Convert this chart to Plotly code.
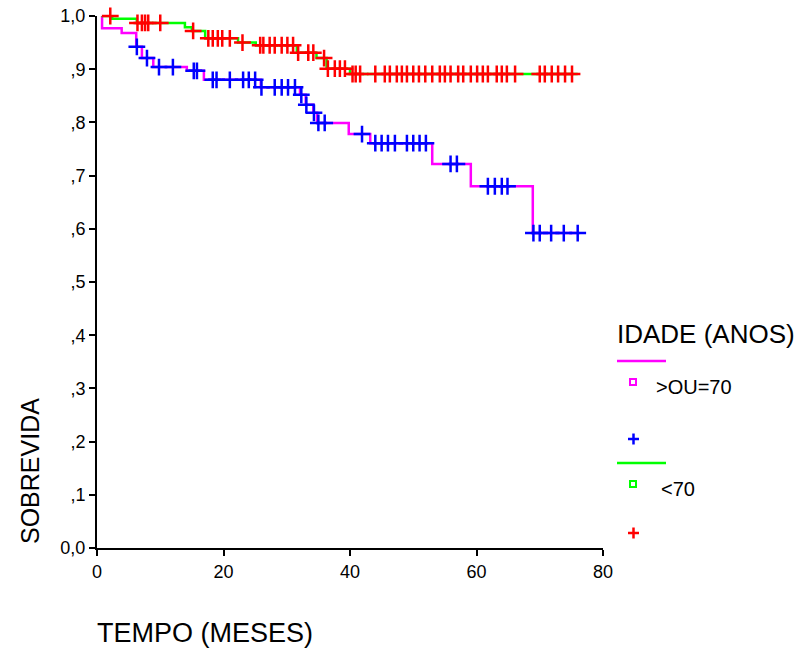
import numpy as np
import plotly.graph_objects as go

# ---------------- data ----------------
start_t = 0.7
# group >OU=70 (magenta line, blue censor marks)
old_drop_t = [0.8, 3.9, 6.2, 7.1, 8.9, 14.2, 16.9, 25.9, 32.1, 33.0, 34.2, 34.8, 39.8, 43.2, 53.0, 59.1, 68.9]
old_drop_s = [0.977, 0.968, 0.942, 0.921, 0.904, 0.897, 0.880, 0.866, 0.852, 0.833, 0.818, 0.799, 0.778, 0.761, 0.722, 0.680, 0.592]
old_end = 76.3
old_cens = [6.3, 7.9, 9.8, 12.0, 15.3, 15.8, 18.3, 18.9, 21.0, 23.1, 24.0, 25.0, 26.0, 28.1, 29.2, 30.2,
            31.3, 32.3, 33.1, 34.3, 35.0, 36.0, 41.9, 44.0, 45.0, 46.0, 47.1, 49.0, 50.0, 51.0, 52.0,
            55.9, 56.9, 61.8, 62.9, 64.0, 64.9, 69.0, 70.0, 71.8, 73.8, 76.0]

# group <70 (green line, red censor marks)
young_drop_t = [2.4, 6.3, 13.9, 15.0, 17.1, 22.3, 25.1, 31.6, 34.7, 36.3, 40.0]
young_drop_s = [0.995, 0.987, 0.979, 0.972, 0.958, 0.950, 0.945, 0.931, 0.921, 0.901, 0.891]
young_end = 76.0
young_cens = [2.1, 6.4, 7.1, 7.6, 8.1, 10.0, 15.2, 17.6, 18.3, 19.1, 19.8, 21.0, 23.0, 25.8, 26.3, 27.3,
              28.1, 29.2, 30.1, 31.0, 31.8, 33.4, 34.2, 35.9, 36.5, 37.6, 38.4, 39.2, 40.4, 40.9, 41.6,
              44.0, 45.5, 46.3, 47.4, 48.2, 49.0, 50.0, 50.9, 51.9, 53.0, 54.2, 55.0, 55.9, 57.1, 57.9,
              59.1, 60.1, 61.0, 61.8, 63.2, 64.0, 64.8, 66.1, 70.0, 70.8, 71.9, 72.9, 74.0, 75.1]

x_ticks = [0, 20, 40, 60, 80]
y_ticks = [0.0, 0.1, 0.2, 0.3, 0.4, 0.5, 0.6, 0.7, 0.8, 0.9, 1.0]
y_ticktext = ["0,0", ",1", ",2", ",3", ",4", ",5", ",6", ",7", ",8", ",9", "1,0"]
legend_title = "IDADE (ANOS)"
group_names = [">OU=70", "<70"]

FONT = "Liberation Sans, Arial, sans-serif"
W, H = 799, 651
ML, MR, MT, MB = 97, 196, 16, 103
PW, PH = W - ML - MR, H - MT - MB


def step_xy(drop_t, drop_s, end):
    xs = [start_t] + list(drop_t) + [end]
    ys = [1.0] + list(drop_s) + [drop_s[-1]]
    return xs, ys


def surv_at(drop_t, drop_s, times):
    t = np.asarray(drop_t)
    s = np.concatenate([[1.0], np.asarray(drop_s)])
    idx = np.searchsorted(t, np.asarray(times), side="right")
    return s[idx]


def px(x):
    return (x - ML) / PW


def py(y):
    return (H - MB - y) / PH


fig = go.Figure()

ox, oy = step_xy(old_drop_t, old_drop_s, old_end)
yx, yy = step_xy(young_drop_t, young_drop_s, young_end)

fig.add_trace(go.Scatter(x=ox, y=oy, mode="lines", line=dict(color="#ff00ff", width=2.5, shape="hv"),
                         showlegend=False, cliponaxis=False))
fig.add_trace(go.Scatter(x=yx, y=yy, mode="lines", line=dict(color="#00ff00", width=2.5, shape="hv"),
                         showlegend=False, cliponaxis=False))
fig.add_trace(go.Scatter(x=old_cens, y=surv_at(old_drop_t, old_drop_s, old_cens), mode="markers",
                         marker=dict(symbol="cross-thin", size=12, line=dict(color="#0000ff", width=2.5)),
                         showlegend=False, cliponaxis=False))
fig.add_trace(go.Scatter(x=young_cens, y=surv_at(young_drop_t, young_drop_s, young_cens), mode="markers",
                         marker=dict(symbol="cross-thin", size=12, line=dict(color="#ff0000", width=2.5)),
                         showlegend=False, cliponaxis=False))

shapes = []
annotations = []

# legend (custom drawn in right margin)
annotations.append(dict(x=px(615), y=py(334), xref="paper", yref="paper", text=legend_title, showarrow=False,
                        xanchor="left", yanchor="middle", font=dict(family=FONT, size=26, color="black")))
leg = [
    dict(color="#ff00ff", mark="#0000ff", line_y=361, sq_y=382, lab_y=387, lab_x=654, plus_y=439, name=group_names[0]),
    dict(color="#00ff00", mark="#ff0000", line_y=463, sq_y=484, lab_y=489, lab_x=659, plus_y=533, name=group_names[1]),
]
for g in leg:
    shapes.append(dict(type="line", xref="paper", yref="paper", x0=px(617), x1=px(666),
                       y0=py(g["line_y"]), y1=py(g["line_y"]), line=dict(color=g["color"], width=2.5)))
    shapes.append(dict(type="rect", xref="paper", yref="paper", x0=px(630), x1=px(636),
                       y0=py(g["sq_y"] + 3), y1=py(g["sq_y"] - 3), line=dict(color=g["color"], width=2)))
    annotations.append(dict(x=px(g["lab_x"]), y=py(g["lab_y"]), xref="paper", yref="paper", text=g["name"],
                            showarrow=False, xanchor="left", yanchor="middle",
                            font=dict(family=FONT, size=20, color="black")))
    shapes.append(dict(type="line", xref="paper", yref="paper", x0=px(628), x1=px(639),
                       y0=py(g["plus_y"]), y1=py(g["plus_y"]), line=dict(color=g["mark"], width=2.5)))
    shapes.append(dict(type="line", xref="paper", yref="paper", x0=px(633.5), x1=px(633.5),
                       y0=py(g["plus_y"] - 5.5), y1=py(g["plus_y"] + 5.5), line=dict(color=g["mark"], width=2.5)))

# axis titles
annotations.append(dict(x=px(30), y=py(471), xref="paper", yref="paper", text="SOBREVIDA", textangle=-90,
                        showarrow=False, xanchor="center", yanchor="middle",
                        font=dict(family=FONT, size=25, color="black")))
annotations.append(dict(x=px(95), y=py(633), xref="paper", yref="paper", text="TEMPO (MESES)",
                        showarrow=False, xanchor="left", yanchor="middle",
                        font=dict(family=FONT, size=27, color="black")))

fig.update_layout(
    width=W, height=H, autosize=False,
    margin=dict(l=ML, r=MR, t=MT, b=MB, pad=0),
    paper_bgcolor="white", plot_bgcolor="white",
    showlegend=False,
    shapes=shapes, annotations=annotations,
    font=dict(family=FONT, color="black"),
)
fig.update_xaxes(range=[0, 80], tickvals=x_ticks, showgrid=False, zeroline=False, automargin=False,
                 showline=True, linecolor="black", linewidth=2, ticks="outside", ticklen=6, tickwidth=2,
                 tickcolor="black", tickfont=dict(family=FONT, size=18, color="black"))
fig.update_yaxes(range=[0, 1], tickvals=y_ticks, ticktext=y_ticktext, showgrid=False, zeroline=False,
                 automargin=False,
                 showline=True, linecolor="black", linewidth=2, ticks="outside", ticklen=6, tickwidth=2,
                 tickcolor="black", tickfont=dict(family=FONT, size=18, color="black"))

fig.write_html("out.html")
